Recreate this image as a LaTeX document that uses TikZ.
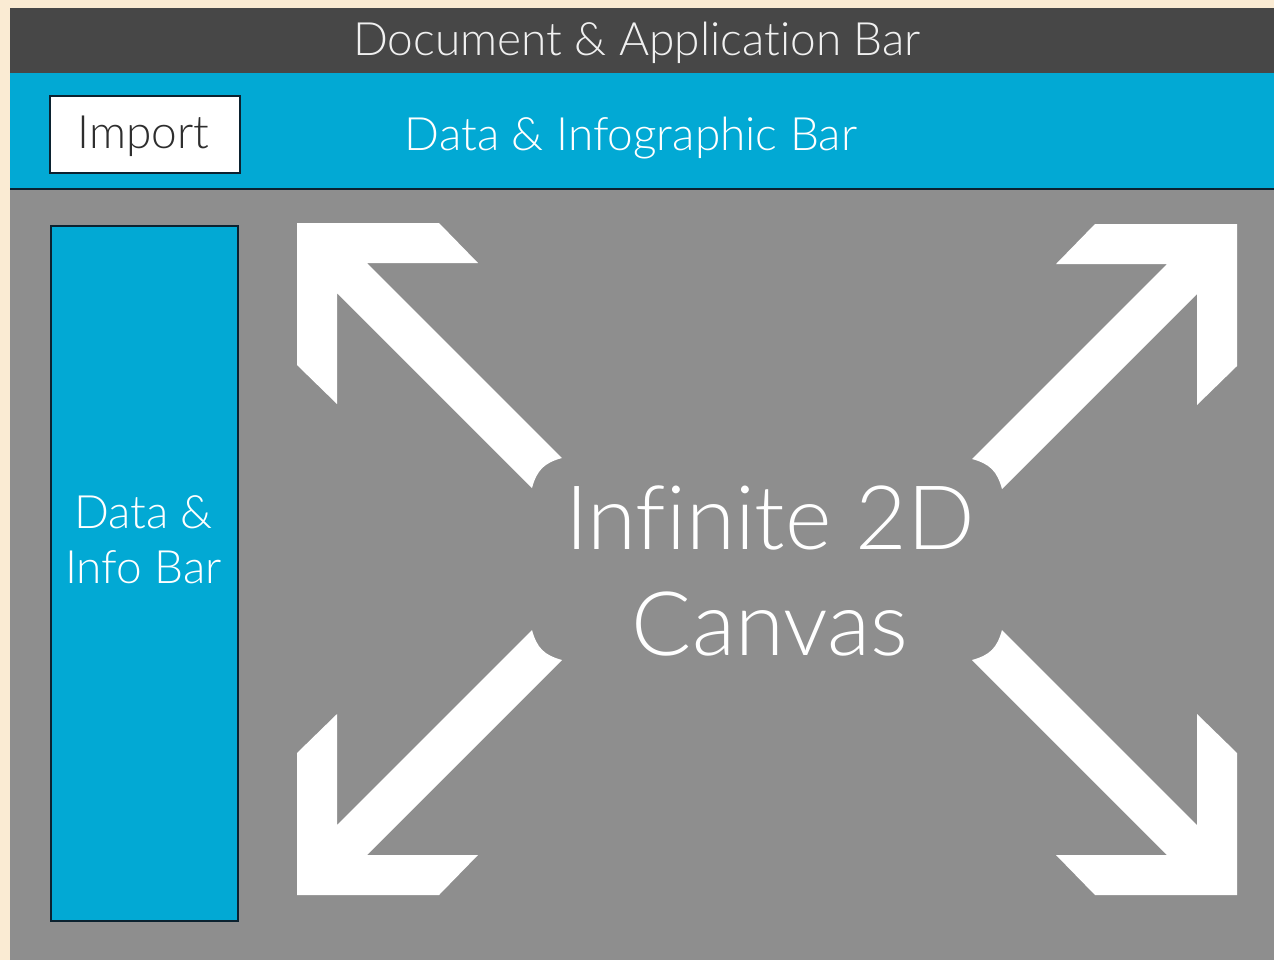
\documentclass[tikz,border=0pt]{standalone}
\usepackage{fontspec}
\IfFontExistsTF{Lato Light}
  {\setmainfont{Lato Light}[Ligatures={NoCommon,NoRare,NoContextual}]}
  {\setmainfont{Liberation Sans}}
\usepackage{tikz}
\usetikzlibrary{positioning}
\definecolor{pagebg}{HTML}{FAEBD3}
\definecolor{appbar}{HTML}{474747}
\definecolor{infobar}{HTML}{02A9D4}
\definecolor{canvasgray}{HTML}{8E8E8E}
\definecolor{edgeline}{HTML}{0B2230}

\begin{document}
\begin{tikzpicture}[
  x=0.5pt, y=-0.5pt,
  barlbl/.style={font=\fontsize{23}{27.6}\selectfont, text=white, inner sep=0pt},
  biglbl/.style={font=\fontsize{44.5}{53.4}\selectfont, text=white, inner sep=0pt, align=center},
  panel/.style={draw=edgeline, line width=1pt, inner sep=0pt, anchor=north west},
  canvasarrow/.pic={
    \fill[white] (0,0) -- (142,0) -- (181,40) -- (70,40) -- (265,235)
      .. controls (247,240) and (240,247) .. (235,265)
      -- (40,70) -- (40,181) -- (0,142) -- cycle;
  },
]
  \fill[pagebg] (0,0) rectangle (1274,960);
  \useasboundingbox (0,0) rectangle (1274,960);

  % Bars and canvas
  \fill[canvasgray] (10,189) rectangle (1274,960);
  \fill[appbar] (10,8) rectangle (1274,73);
  \fill[infobar] (10,73) rectangle (1274,189);
  \draw[edgeline, line width=1.2pt] (10,189) -- (1274,189);

  \node[barlbl, text=white!94!black, anchor=base] (doclbl) at (637,55) {Document \& Application Bar};
  \node[barlbl, anchor=base] (datalbl) at (631,150) {Data \& Infographic Bar};

  \node[panel, fill=white, minimum width=95pt, minimum height=38.5pt] (import) at (49,95) {};
  \node[barlbl, text=black!82, anchor=base] (importlbl) at (143.5,148) {Import};

  % Side panel
  \node[panel, fill=infobar, minimum width=93.5pt, minimum height=347.5pt] (sidebar) at (50,225) {};
  \node[barlbl, align=center] (sidelbl) at (143.5,540) {Data \&\\Info Bar};

  % Canvas arrows
  \pic at (297,223) {canvasarrow};
  \pic[xscale=-1] at (1237,224) {canvasarrow};
  \pic[yscale=-1] at (297,895) {canvasarrow};
  \pic[xscale=-1, yscale=-1] at (1237,895) {canvasarrow};

  \node[biglbl] (canvaslbl) at (770,571) {Infinite 2D\\Canvas};
\end{tikzpicture}
\end{document}
